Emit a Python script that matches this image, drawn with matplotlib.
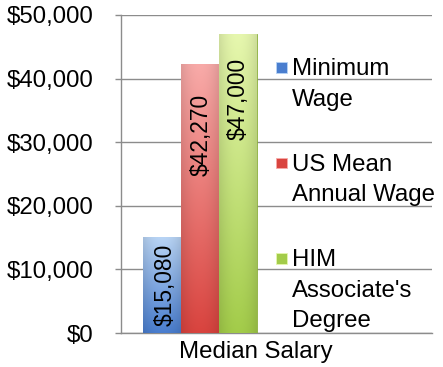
import numpy as np
import matplotlib
matplotlib.use("Agg")
import matplotlib.pyplot as plt
from matplotlib.colors import to_rgb
from matplotlib.patches import Rectangle
from matplotlib.ticker import FuncFormatter

plt.rcParams['font.family'] = ['Liberation Sans', 'DejaVu Sans']

# data
series = ["Minimum\nWage", "US Mean\nAnnual Wage", "HIM\nAssociate's\nDegree"]
values = [15080, 42270, 47000]
category = "Median Salary"
yticks = [0, 10000, 20000, 30000, 40000, 50000]

bottom_colors = ["#4a7ecf", "#d9443f", "#a3cc4a"]
top_colors = ["#b8d4f5", "#f8aaa8", "#e6f7ae"]
edge_colors = ["#3f6cb0", "#b93a36", "#8caf40"]

# layout: how far (px) each value label sits below its bar top, and x nudge
label_drop_px = [7, 30, 24]
label_nudge = [4, 2, 1]

W, H = 443, 367
FS = 17.3
fig = plt.figure(figsize=(W / 100, H / 100), dpi=100)
ax = fig.add_axes([121 / W, 1 - 333 / H, (432 - 121) / W, (333 - 15) / H])

# x axis in pixel-like units of the plot area
xmax = 311
ymax = 50000
bar_w = 38
first_left = 21.7
cat_pos = 135
px_per_val = 318 / ymax

ax.set_xlim(0, xmax)
ax.set_ylim(0, ymax)


def gradient_img(c_bot, c_top, n=64):
    b = np.array(to_rgb(c_bot))
    t = np.array(to_rgb(c_top))
    v = np.linspace(1, 0, n)[:, None, None]       # top -> bottom rows
    img = b + (t - b) * v
    u = np.linspace(-1, 1, 24)[None, :, None]
    shade = 1 - 0.10 * u ** 2
    img = np.clip(img * shade, 0, 1)
    return img


for i, val in enumerate(values):
    left = first_left + i * bar_w
    bars = ax.bar(left, val, width=bar_w, align='edge',
                  color=bottom_colors[i], edgecolor=edge_colors[i],
                  linewidth=0.6, zorder=3)
    patch = bars[0]
    im = ax.imshow(gradient_img(bottom_colors[i], top_colors[i]),
                   extent=[left, left + bar_w, 0, val],
                   aspect='auto', zorder=3.5, interpolation='bilinear')
    im.set_clip_path(patch)
    # value label inside the bar, rotated, pushed down from the bar top
    ax.text(left + bar_w / 2 + label_nudge[i],
            val - label_drop_px[i] / px_per_val, f"${val:,}",
            rotation=90, ha='center', va='top', fontsize=16.4,
            color='black', zorder=5)

ax.set_xlim(0, xmax)
ax.set_ylim(0, ymax)

ax.set_yticks(yticks)
ax.yaxis.set_major_formatter(FuncFormatter(lambda v, p: f"${v:,.0f}"))
ax.grid(axis='y', color='#8c8c8c', linewidth=1.0, zorder=0)
ax.set_axisbelow(True)
ax.set_xticks([cat_pos])
ax.set_xticklabels([category])

ax.tick_params(axis='y', length=4.3, width=1, color='#8c8c8c',
               labelsize=FS, pad=15.5)
ax.tick_params(axis='x', length=0, labelsize=FS, pad=6)

for s in ['top', 'right']:
    ax.spines[s].set_visible(False)
for s in ['left', 'bottom']:
    ax.spines[s].set_color('#8c8c8c')
    ax.spines[s].set_linewidth(1.0)

# legend entries drawn by hand so the key sits on the first line
for i, name in enumerate(series):
    y_top = 0.864 - i * 0.300
    ax.add_patch(Rectangle((0.497, y_top - 0.046), 0.036, 0.033,
                           transform=ax.transAxes, facecolor=bottom_colors[i],
                           edgecolor=top_colors[i], linewidth=0.6,
                           clip_on=False, zorder=6))
    ax.text(0.550, y_top, name, transform=ax.transAxes, ha='left', va='top',
            fontsize=FS, linespacing=1.5, zorder=6)

fig.savefig("out.png", dpi=100, facecolor='white')
